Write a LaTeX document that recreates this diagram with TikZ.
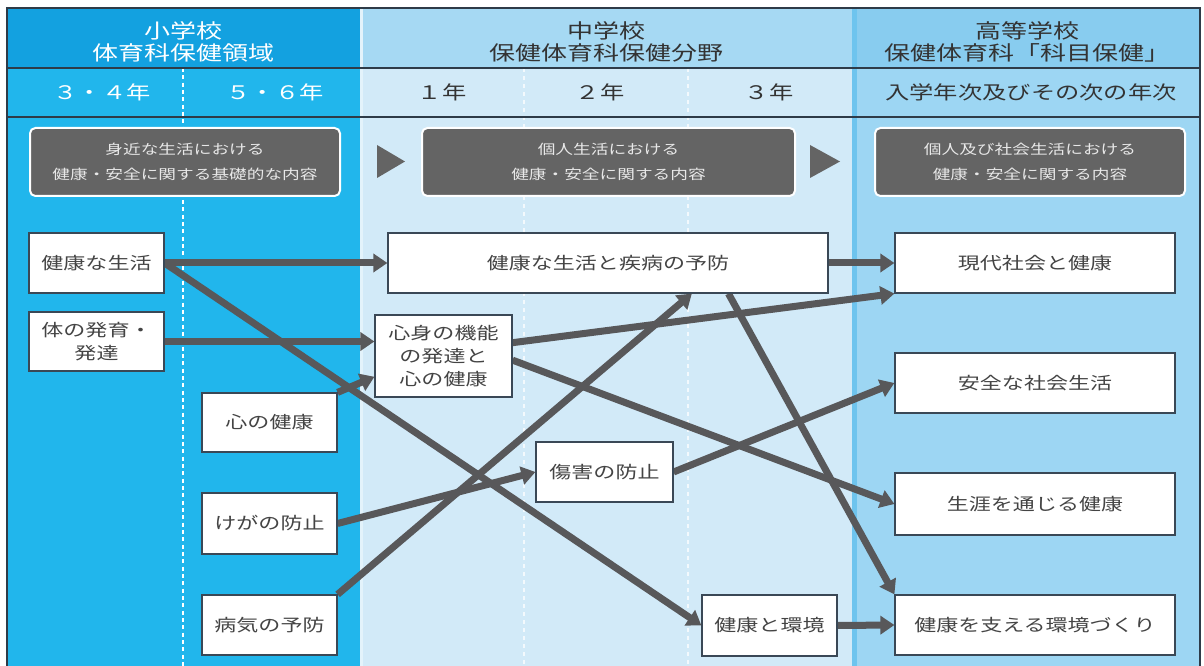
\documentclass[tikz,border=0pt]{standalone}
\usepackage{fontspec}
\newfontfamily\jp[FakeStretch=1.3]{Noto Sans CJK JP}
\usetikzlibrary{arrows.meta,calc}

\definecolor{elemhead}{HTML}{13A1E0}
\definecolor{elembody}{HTML}{21B6EC}
\definecolor{midhead}{HTML}{A6D9F3}
\definecolor{midbody}{HTML}{D2EAF8}
\definecolor{highhead}{HTML}{88CCEF}
\definecolor{highbody}{HTML}{9DD6F3}
\definecolor{seamlight}{HTML}{E3F3FB}
\definecolor{seamblue}{HTML}{6EC4EE}
\definecolor{rulecol}{HTML}{2E3B48}
\definecolor{panelfill}{HTML}{646464}
\definecolor{paneltext}{HTML}{E8E8E8}
\definecolor{boxline}{HTML}{3A4856}
\definecolor{ink}{HTML}{444444}
\definecolor{headink}{HTML}{333333}
\definecolor{arrowgray}{HTML}{58585A}

\pgfdeclarelayer{bg}
\pgfdeclarelayer{links}
\pgfsetlayers{bg,links,main}

\begin{document}
\begin{tikzpicture}[x=0.75pt,y=-0.75pt,
  topic/.style={draw=boxline, line width=0.9pt, fill=white, inner sep=0pt,
    text=ink, align=center, font=\jp\fontsize{12.7pt}{17pt}\selectfont},
  panelbox/.style={fill=panelfill, draw=white, line width=1.5pt,
    rounded corners=4pt, inner sep=0pt, minimum height=51pt,
    text=paneltext, align=center, font=\jp\fontsize{10.2pt}{19pt}\selectfont},
  schoolhead/.style={align=center, inner sep=0pt,
    font=\jp\fontsize{15pt}{17pt}\selectfont},
  yearlabel/.style={inner sep=0pt, font=\jp\fontsize{14pt}{16pt}\selectfont},
  conn/.style={draw=arrowgray, line width=5.25pt,
    -{Triangle[length=10.5pt,width=13.5pt]}}]

\useasboundingbox (0,0) rectangle (1204,666);

% column backgrounds
\begin{pgfonlayer}{bg}
\fill[white] (0,0) rectangle (1204,666);
\fill[elemhead] (8,8) rectangle (360,68);
\fill[elembody] (8,68) rectangle (360,666);
\fill[midhead] (360,8) rectangle (852,68);
\fill[midbody] (360,68) rectangle (852,666);
\fill[highhead] (852,8) rectangle (1199,68);
\fill[highbody] (852,68) rectangle (1199,666);
\fill[seamlight] (360,8) rectangle (363,666);
\fill[seamblue] (852,8) rectangle (857,666);
% grade dividers
\draw[white, line width=1.1pt, dash pattern=on 3pt off 2.5pt] (183,68) -- (183,666);
\draw[white, opacity=0.75, line width=0.8pt, dash pattern=on 3pt off 3pt] (524,68) -- (524,666);
\draw[white, opacity=0.75, line width=0.8pt, dash pattern=on 3pt off 3pt] (688,68) -- (688,666);
% frame and header rules
\draw[rulecol, line width=1.2pt] (8,68) -- (1199,68);
\draw[rulecol, line width=1.2pt] (8,117) -- (1199,117);
\draw[rulecol, line width=1.2pt] (7,666) -- (7,8) -- (1200,8) -- (1200,666);
% stage arrows between the panels
\fill[panelfill] (377,145) -- (405,161.5) -- (377,178) -- cycle;
\fill[panelfill] (810,145) -- (840,161.5) -- (810,178) -- cycle;
\end{pgfonlayer}

% school headers
\node[schoolhead, text=white] (hElem) at (184,42) {小学校\\体育科保健領域};
\node[schoolhead, text=headink] (hMid) at (606,42) {中学校\\保健体育科保健分野};
\node[schoolhead, text=headink] (hHigh) at (1027,42) {高等学校\\保健体育科「科目保健」};

% grade labels
\node[yearlabel, text=white] (g34) at (102,92) {３・４年};
\node[yearlabel, text=white] (g56) at (275,92) {５・６年};
\node[yearlabel, text=headink] (g1) at (442,92) {１年};
\node[yearlabel, text=headink] (g2) at (600,92) {２年};
\node[yearlabel, text=headink] (g3) at (769,92) {３年};
\node[yearlabel, text=headink] (gh) at (1031,92) {入学年次及びその次の年次};

% stage panels
\node[panelbox, minimum width=232.5pt] (pElem) at (185,162) {身近な生活における\\健康・安全に関する基礎的な内容};
\node[panelbox, minimum width=279.75pt] (pMid) at (608.5,162) {個人生活における\\健康・安全に関する内容};
\node[panelbox, minimum width=232.5pt] (pHigh) at (1030,162) {個人及び社会生活における\\健康・安全に関する内容};

% elementary topics
\node[topic, minimum width=101.25pt, minimum height=45pt] (n1) at (96.5,263) {健康な生活};
\node[topic, minimum width=101.25pt, minimum height=44.25pt] (n2) at (96.5,341.5) {体の発育・\\発達};
\node[topic, minimum width=101.25pt, minimum height=44.25pt] (n3) at (269.5,422.5) {心の健康};
\node[topic, minimum width=101.25pt, minimum height=45.75pt] (n4) at (269.5,523.5) {けがの防止};
\node[topic, minimum width=101.25pt, minimum height=45pt] (n5) at (269.5,625) {病気の予防};

% junior high topics
\node[topic, minimum width=330pt, minimum height=45pt] (m1) at (608,263) {健康な生活と疾病の予防};
\node[topic, minimum width=102.75pt, minimum height=61.5pt] (m2) at (443.5,356) {心身の機能\\の発達と\\心の健康};
\node[topic, minimum width=102.75pt, minimum height=45pt] (m3) at (604.5,472) {傷害の防止};
\node[topic, minimum width=101.25pt, minimum height=45.75pt] (m4) at (769.5,625.5) {健康と環境};

% high school topics
\node[topic, minimum width=210pt, minimum height=45pt] (h1) at (1035,263) {現代社会と健康};
\node[topic, minimum width=210pt, minimum height=45pt] (h2) at (1035,383) {安全な社会生活};
\node[topic, minimum width=210pt, minimum height=46.5pt] (h3) at (1035,504) {生涯を通じる健康};
\node[topic, minimum width=210pt, minimum height=45pt] (h4) at (1035,625) {健康を支える環境づくり};

% links between topics
\begin{pgfonlayer}{links}
\draw[conn] (n1.east) -- (m1.west);
\draw[conn] (n1.east) -- (m4.west);
\draw[conn] (n2.east) -- (n2.east -| m2.west);
\draw[conn] (n3.north east) -- ($(m2.south west)!0.25!(m2.north west)$);
\draw[conn] (n4.east) -- (m3.west);
\draw[conn] (n5.north east) -- ($(m1.south west)!0.69!(m1.south east)$);
\draw[conn] ($(m2.north east)!0.34!(m2.south east)$) -- (h1.south west);
\draw[conn] ($(m2.north east)!0.55!(m2.south east)$) -- (h3.west);
\draw[conn] (m3.east) -- (h2.west);
\draw[conn] ($(m1.south west)!0.773!(m1.south east)$) -- (h4.north west);
\draw[conn] (m1.east) -- (h1.west);
\draw[conn] (m4.east) -- (h4.west);
\end{pgfonlayer}

\end{tikzpicture}
\end{document}
